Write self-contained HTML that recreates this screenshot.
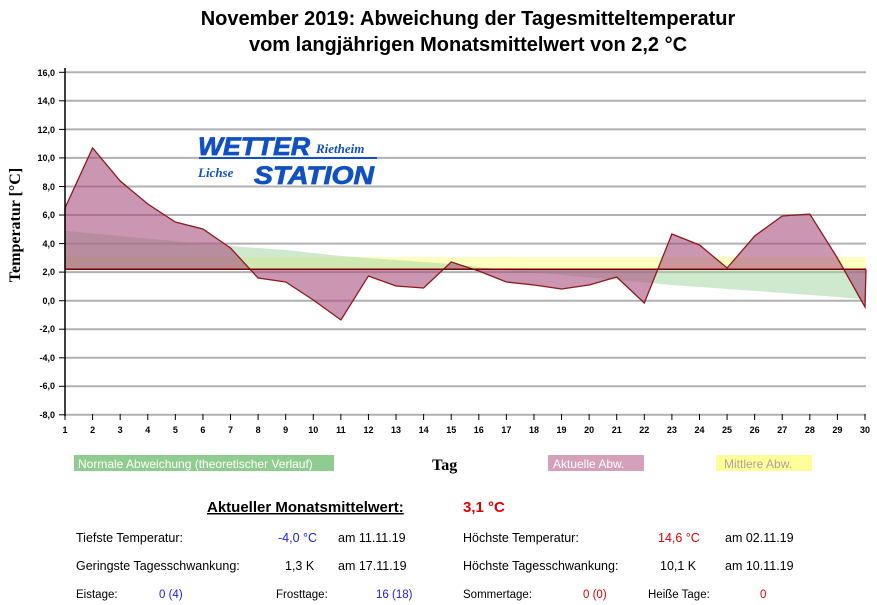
<!DOCTYPE html>
<html><head><meta charset="utf-8"><style>
body{margin:0;width:877px;height:605px;background:#fff;overflow:hidden;font-family:"Liberation Sans",Arial,sans-serif}
</style></head><body>
<svg width="877" height="605" style="position:absolute;left:0;top:0" font-family="Liberation Sans, Arial, sans-serif">
<text x="468" y="25" font-size="20" font-weight="bold" text-anchor="middle">November 2019: Abweichung der Tagesmitteltemperatur</text>
<text x="468" y="51" font-size="20" font-weight="bold" text-anchor="middle">vom langjährigen Monatsmittelwert von 2,2 °C</text>
<g stroke="#b0b0b0" stroke-width="2">
<line x1="65" x2="866" y1="72.3" y2="72.3"/><line x1="65" x2="866" y1="100.8" y2="100.8"/>
<line x1="65" x2="866" y1="129.4" y2="129.4"/><line x1="65" x2="866" y1="157.9" y2="157.9"/>
<line x1="65" x2="866" y1="186.5" y2="186.5"/><line x1="65" x2="866" y1="215" y2="215"/>
<line x1="65" x2="866" y1="243.6" y2="243.6"/><line x1="65" x2="866" y1="272.1" y2="272.1"/>
<line x1="65" x2="866" y1="300.7" y2="300.7"/><line x1="65" x2="866" y1="329.2" y2="329.2"/>
<line x1="65" x2="866" y1="357.8" y2="357.8"/><line x1="65" x2="866" y1="386.3" y2="386.3"/>
<line x1="65" x2="866" y1="414.8" y2="414.8"/>
</g>
<rect x="65" y="257" width="801" height="12.3" fill="#ffffb0" opacity="0.8"/>
<polygon fill="#9fd49f" opacity="0.5" points="65,269.3 65,230.8 120,236 175,241 230,246 286,250 341,256 396,260 452,264 507,270 562,275 617,280 672,285 728,289 783,293 838,297 866,299.5 866,269.3"/>
<polygon fill="#a8507e" opacity="0.6" stroke="none" points="65,269.3 65,208 92.6,148 120.2,181 147.8,204 175.3,222 202.9,229 230.5,248 258.1,278 285.7,282 313.3,300 340.9,320 368.4,276 396,286 423.6,288 451.2,262 478.8,271 506.4,282 534,285 561.6,289 589.1,285 616.7,277 644.3,303 671.9,234 699.5,245 727.1,268 754.7,236 782.2,216 809.8,214 837.4,258 865,307 866,269.3"/>
<polyline fill="none" stroke="#8b1a1a" stroke-width="1.3" points="65,269.3 65,208 92.6,148 120.2,181 147.8,204 175.3,222 202.9,229 230.5,248 258.1,278 285.7,282 313.3,300 340.9,320 368.4,276 396,286 423.6,288 451.2,262 478.8,271 506.4,282 534,285 561.6,289 589.1,285 616.7,277 644.3,303 671.9,234 699.5,245 727.1,268 754.7,236 782.2,216 809.8,214 837.4,258 865,307 866,269.3"/>
<line x1="65" x2="866" y1="269.3" y2="269.3" stroke="#7a0000" stroke-width="1.5"/>
<line x1="65" x2="65" y1="68" y2="416" stroke="#000" stroke-width="1.5"/>
<g font-size="9" font-weight="bold" fill="#000" text-anchor="end">
<text x="55" y="76">16,0</text><text x="55" y="104">14,0</text><text x="55" y="133">12,0</text><text x="55" y="161">10,0</text><text x="55" y="190">8,0</text><text x="55" y="218">6,0</text><text x="55" y="247">4,0</text><text x="55" y="275">2,0</text><text x="55" y="304">0,0</text><text x="55" y="332">-2,0</text><text x="55" y="361">-4,0</text><text x="55" y="389">-6,0</text><text x="55" y="418">-8,0</text>
</g>
<g stroke="#000"><line x1="59" x2="65" y1="72.3" y2="72.3"/><line x1="59" x2="65" y1="100.8" y2="100.8"/><line x1="59" x2="65" y1="129.4" y2="129.4"/><line x1="59" x2="65" y1="157.9" y2="157.9"/><line x1="59" x2="65" y1="186.5" y2="186.5"/><line x1="59" x2="65" y1="215" y2="215"/><line x1="59" x2="65" y1="243.6" y2="243.6"/><line x1="59" x2="65" y1="272.1" y2="272.1"/><line x1="59" x2="65" y1="300.7" y2="300.7"/><line x1="59" x2="65" y1="329.2" y2="329.2"/><line x1="59" x2="65" y1="357.8" y2="357.8"/><line x1="59" x2="65" y1="386.3" y2="386.3"/><line x1="59" x2="65" y1="414.8" y2="414.8"/></g>
<g id="xt" font-size="9" font-weight="bold" fill="#000" text-anchor="middle"></g>
<g id="xk" stroke="#000"></g>
<text transform="translate(20,225) rotate(-90)" font-family="Liberation Serif, serif" font-size="16" font-weight="bold" text-anchor="middle">Temperatur [°C]</text>
<g font-style="italic" font-weight="bold" fill="#1050c0">
<text x="198" y="155" font-size="25" font-family="Liberation Sans, Arial, sans-serif" textLength="112" lengthAdjust="spacingAndGlyphs" stroke="#1050c0" stroke-width="0.8">WETTER</text>
<text x="316" y="153" font-size="13" font-family="Liberation Serif, serif">Rietheim</text>
<rect x="199" y="157" width="178" height="2" fill="#1050c0"/>
<text x="198" y="177" font-size="13" font-family="Liberation Serif, serif">Lichse</text>
<text x="254" y="184" font-size="25" font-family="Liberation Sans, Arial, sans-serif" textLength="120" lengthAdjust="spacingAndGlyphs" stroke="#1050c0" stroke-width="0.8">STATION</text>
</g>
<rect x="74" y="455" width="260" height="16" fill="#90cc90"/>
<text x="78" y="468" font-size="12" fill="#fff">Normale Abweichung (theoretischer Verlauf)</text>
<text x="432" y="470" font-family="Liberation Serif, serif" font-size="16" font-weight="bold">Tag</text>
<rect x="548" y="455" width="96" height="16" fill="#d4a0bc"/>
<text x="553" y="468" font-size="12" fill="#fff">Aktuelle Abw.</text>
<rect x="716" y="455" width="96" height="16" fill="#ffff99"/>
<text x="724" y="468" font-size="12" fill="#b0a0a0">Mittlere Abw.</text>
<text x="207" y="512" font-size="15" font-weight="bold" text-decoration="underline">Aktueller Monatsmittelwert:</text>
<text x="463" y="512" font-size="15" font-weight="bold" fill="#e00000">3,1 °C</text>
<g font-size="12.5">
<text x="76" y="542">Tiefste Temperatur:</text><text x="278" y="542" fill="#2020e0">-4,0 °C</text><text x="338" y="542">am 11.11.19</text>
<text x="463" y="542">Höchste Temperatur:</text><text x="658" y="542" fill="#e00000">14,6 °C</text><text x="725" y="542">am 02.11.19</text>
<text x="76" y="570">Geringste Tagesschwankung:</text><text x="285" y="570">1,3 K</text><text x="338" y="570">am 17.11.19</text>
<text x="463" y="570">Höchste Tagesschwankung:</text><text x="660" y="570">10,1 K</text><text x="725" y="570">am 10.11.19</text>
</g>
<g font-size="11.5">
<text x="76" y="598">Eistage:</text><text x="159" y="598" fill="#2020e0">0 (4)</text>
<text x="276" y="598">Frosttage:</text><text x="376" y="598" fill="#2020e0">16 (18)</text>
<text x="463" y="598">Sommertage:</text><text x="583" y="598" fill="#e00000">0 (0)</text>
<text x="648" y="598">Heiße Tage:</text><text x="760" y="598" fill="#e00000">0</text>
</g>
</svg>
<script>
var t=document.getElementById('xt'),k=document.getElementById('xk'),s='';var kk='';
for(var i=1;i<=30;i++){var x=65+(i-1)*27.586;s+='<text x="'+x+'" y="433">'+i+'</text>';kk+='<line x1="'+x+'" x2="'+x+'" y1="414" y2="420"/>';}
t.innerHTML=s;k.innerHTML=kk;
</script>
</body></html>
